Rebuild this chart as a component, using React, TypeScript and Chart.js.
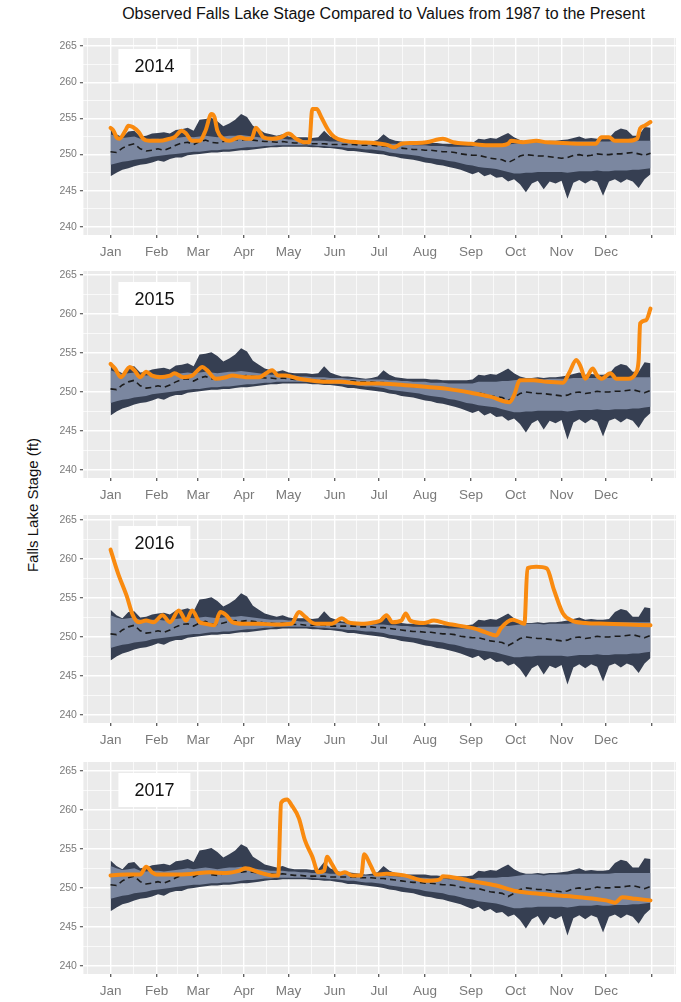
import React, { useEffect, useRef } from 'react';
import { Chart, registerables } from 'chart.js';
Chart.register(...registerables);

// ---------- Data ----------
const MONTHS = ['Jan', 'Feb', 'Mar', 'Apr', 'May', 'Jun', 'Jul', 'Aug', 'Sep', 'Oct', 'Nov', 'Dec'];
const MONTH_START_DAYS = [0, 31, 59, 90, 120, 151, 181, 212, 243, 273, 304, 334, 365];
const MINOR_X_DAYS = [-15.5, 15.5, 45, 74.5, 105, 135.5, 166, 196.5, 227.5, 258, 288.5, 319, 349.5, 380.5];
const Y_MAJOR = [240, 245, 250, 255, 260, 265];
const Y_MINOR = [242.5, 247.5, 252.5, 257.5, 262.5];

// Historical statistics (1987 - present), day of year
const HIST_DAY = [0, 4, 8, 12, 16, 20, 24, 28, 32, 36, 40, 44, 48, 52, 56, 60, 64, 68, 72, 76, 80, 84, 88, 92, 96, 100, 104, 108, 112, 116, 120, 124, 128, 132, 136, 140, 144, 148, 152, 156, 160, 164, 168, 172, 176, 180, 184, 188, 192, 196, 200, 204, 208, 212, 216, 220, 224, 228, 232, 236, 240, 244, 248, 252, 256, 260, 264, 268, 272, 276, 280, 284, 288, 292, 296, 300, 304, 308, 312, 316, 320, 324, 328, 332, 336, 340, 344, 348, 352, 356, 360, 364];
const HIST_MAX = [
  253.5, 252.8, 252.4, 253.2, 253.3, 252.5, 252.6, 252.9, 253.0, 253.1,
  252.9, 253.4, 253.5, 253.7, 253.3, 254.8, 254.9, 255.1, 254.6, 253.9,
  254.3, 254.8, 255.6, 255.2, 254.0, 253.5, 253.0, 252.8, 252.6, 252.8,
  252.5, 252.4, 252.4, 252.4, 252.3, 252.4, 253.3, 252.5, 252.2, 252.0,
  252.0, 251.9, 251.8, 251.7, 251.8, 252.0, 252.8, 252.2, 251.9, 251.8,
  251.7, 251.7, 251.7, 251.7, 251.6, 251.6, 251.5, 251.5, 251.5, 251.5,
  251.5, 251.6, 252.2, 252.1, 252.3, 252.2, 252.6, 253.0, 252.4, 252.0,
  251.8, 251.8, 251.9, 251.8, 251.9, 251.9, 252.0, 252.1, 252.3, 252.5,
  252.2, 252.3, 252.2, 252.2, 252.3, 253.2, 253.6, 253.4, 252.6, 252.6,
  253.8, 253.7];
const HIST_Q_HI = [
  252.8, 252.5, 252.3, 252.4, 252.5, 252.2, 252.1, 252.2, 252.2, 252.1,
  252.2, 252.3, 252.4, 252.5, 252.4, 252.5, 252.6, 252.5, 252.4, 252.5,
  252.6, 252.6, 252.7, 252.6, 252.5, 252.4, 252.3, 252.2, 252.2, 252.2,
  252.1, 252.1, 252.0, 252.0, 251.9, 251.9, 251.9, 251.8, 251.8, 251.8,
  251.7, 251.7, 251.6, 251.6, 251.6, 251.6, 251.6, 251.5, 251.5, 251.4,
  251.4, 251.3, 251.3, 251.3, 251.2, 251.2, 251.2, 251.1, 251.1, 251.1,
  251.1, 251.1, 251.3, 251.3, 251.3, 251.3, 251.4, 251.4, 251.5, 251.6,
  251.7, 251.7, 251.7, 251.6, 251.7, 251.7, 251.7, 251.7, 251.8, 251.8,
  251.8, 251.8, 251.8, 251.8, 251.8, 251.9, 251.9, 251.9, 251.9, 251.9,
  251.9, 251.9];
const HIST_MED = [
  250.4, 250.3, 250.9, 251.3, 251.5, 250.8, 250.5, 250.6, 250.8, 250.6,
  250.9, 251.3, 251.6, 251.7, 251.4, 251.8, 252.0, 251.7, 251.6, 251.8,
  252.0, 252.1, 252.0, 252.1, 252.0, 251.9, 251.8, 251.8, 251.7, 251.8,
  251.7, 251.6, 251.6, 251.5, 251.5, 251.5, 251.5, 251.4, 251.4, 251.4,
  251.4, 251.4, 251.3, 251.3, 251.3, 251.2, 251.2, 251.1, 251.0, 250.9,
  250.8, 250.7, 250.7, 250.6, 250.6, 250.5, 250.4, 250.4, 250.3, 250.1,
  250.0, 249.9, 249.9, 249.7, 249.5, 249.4, 249.3, 248.9, 249.3, 249.8,
  250.0, 249.9, 249.8, 249.8, 249.7, 249.6, 249.5, 249.6, 249.9, 250.0,
  249.8, 249.9, 250.1, 250.0, 250.0, 250.1, 250.1, 250.2, 250.3, 250.1,
  249.9, 250.2];
const HIST_Q_LO = [
  248.6, 248.8, 249.0, 249.1, 249.3, 249.4, 249.5, 249.7, 249.8, 249.9,
  250.0, 250.1, 250.2, 250.3, 250.4, 250.4, 250.5, 250.6, 250.6, 250.7,
  250.7, 250.8, 250.9, 251.0, 251.0, 251.1, 251.2, 251.2, 251.3, 251.3,
  251.3, 251.3, 251.3, 251.3, 251.3, 251.2, 251.2, 251.1, 251.1, 251.0,
  250.9, 250.9, 250.8, 250.7, 250.7, 250.6, 250.5, 250.3, 250.2, 250.1,
  250.0, 249.9, 249.8, 249.6, 249.5, 249.4, 249.3, 249.1, 249.0, 248.8,
  248.6, 248.5, 248.3, 248.2, 248.1, 248.0, 247.8, 247.6, 247.4, 247.4,
  247.5, 247.5, 247.6, 247.6, 247.6, 247.6, 247.6, 247.5, 247.6, 247.7,
  247.7, 247.7, 247.8, 247.7, 247.7, 247.8, 247.8, 247.8, 247.9, 247.9,
  248.0, 248.1];
const HIST_MIN = [
  247.0, 247.5, 247.9, 248.1, 248.4, 248.6, 248.7, 248.9, 249.2, 249.0,
  249.4, 249.6, 249.6, 249.9, 250.0, 250.1, 250.2, 250.3, 250.3, 250.4,
  250.4, 250.5, 250.6, 250.6, 250.7, 250.8, 250.9, 251.0, 251.0, 251.1,
  251.1, 251.1, 251.1, 251.1, 251.0, 251.0, 250.9, 250.9, 250.8, 250.7,
  250.5, 250.5, 250.4, 250.3, 250.2, 250.1, 250.0, 249.8, 249.7, 249.5,
  249.4, 249.3, 249.1, 248.9, 248.8, 248.6, 248.5, 248.3, 248.1, 247.9,
  247.6, 247.3, 247.6, 247.0, 247.3, 246.8, 246.9, 246.3, 246.6, 245.9,
  244.8, 246.0, 246.4, 245.2, 246.3, 246.0, 246.4, 243.9, 246.1, 246.5,
  246.0, 246.5, 246.2, 244.3, 246.3, 246.6, 246.1, 246.6, 246.3, 245.4,
  246.6, 247.3];

// Observed stage per year
const OBS_2014_DAY = [0, 2, 4, 6, 10, 12, 15, 19, 22, 26, 33, 40, 43, 48, 51, 55, 60, 64, 68, 70, 72, 76, 80, 87, 91, 95, 98, 100, 103, 109, 115, 120, 125, 131, 134, 136, 139, 142, 147, 151, 158, 167, 178, 187, 191, 196, 204, 213, 224, 231, 243, 253, 264, 268, 270, 278, 287, 294, 305, 316, 327, 331, 336, 340, 349, 355, 357, 360, 364];
const OBS_2014 = [253.7, 253.3, 252.4, 252.2, 253.3, 254.0, 253.8, 253.1, 252.2, 251.9, 251.9, 252.2, 252.4, 253.3, 252.9, 251.9, 251.9, 253.3, 255.6, 255.2, 253.3, 252.2, 251.9, 252.4, 252.2, 252.2, 253.7, 253.3, 252.4, 252.2, 252.4, 252.9, 252.2, 251.7, 251.7, 256.3, 256.3, 255.2, 253.3, 252.4, 251.9, 251.7, 251.6, 251.3, 251.0, 251.5, 251.6, 251.7, 252.2, 251.7, 251.5, 251.3, 251.3, 251.5, 251.9, 251.7, 251.9, 251.7, 251.6, 251.5, 251.5, 252.4, 252.4, 251.9, 251.9, 252.2, 253.6, 254.0, 254.5];

const OBS_2015_DAY = [0, 3, 7, 13, 16, 20, 24, 28, 33, 40, 43, 49, 55, 62, 65, 71, 78, 82, 91, 100, 109, 113, 118, 127, 134, 145, 156, 167, 181, 191, 204, 227, 243, 256, 269, 272, 276, 285, 294, 305, 309, 314, 317, 320, 325, 328, 331, 337, 341, 349, 354, 356, 357, 361, 364];
const OBS_2015 = [253.6, 253.0, 251.9, 253.2, 252.8, 251.9, 252.6, 252.1, 251.9, 252.1, 252.4, 251.9, 252.1, 253.2, 252.8, 251.7, 251.9, 252.1, 251.9, 251.9, 252.8, 252.1, 252.1, 251.7, 251.5, 251.3, 251.3, 251.1, 251.1, 251.0, 250.8, 250.4, 249.9, 249.4, 248.7, 249.6, 251.5, 251.5, 251.3, 251.2, 252.4, 254.1, 253.2, 251.7, 253.0, 252.1, 251.7, 252.4, 251.7, 251.7, 252.4, 254.1, 258.8, 259.2, 260.7];

const OBS_2016_DAY = [0, 5, 11, 15, 19, 24, 29, 35, 40, 46, 51, 55, 60, 64, 70, 74, 78, 82, 89, 100, 111, 122, 127, 131, 138, 149, 156, 160, 169, 178, 182, 186, 190, 196, 199, 202, 211, 218, 227, 245, 253, 260, 263, 271, 276, 279, 281, 287, 294, 299, 305, 311, 320, 334, 349, 364];
const OBS_2016 = [261.2, 258.2, 255.2, 252.8, 251.9, 252.1, 251.9, 252.8, 251.9, 253.4, 252.1, 253.4, 251.9, 251.7, 251.5, 253.2, 252.8, 251.9, 251.7, 251.7, 251.6, 251.7, 253.2, 252.6, 251.7, 251.7, 252.4, 251.9, 251.7, 251.9, 252.1, 252.8, 251.9, 252.1, 253.0, 252.1, 251.8, 252.1, 251.7, 251.1, 250.6, 250.2, 251.1, 252.2, 251.9, 251.7, 258.8, 259.0, 258.8, 256.0, 253.0, 252.1, 251.8, 251.7, 251.6, 251.5];

const OBS_2017_DAY = [0, 11, 20, 24, 28, 31, 44, 55, 67, 78, 87, 91, 100, 109, 113, 115, 119, 122, 127, 131, 136, 140, 144, 146, 149, 154, 158, 163, 169, 171, 175, 179, 186, 198, 212, 222, 224, 238, 243, 260, 273, 285, 304, 316, 334, 340, 345, 354, 364];
const OBS_2017 = [251.6, 251.7, 251.7, 252.7, 252.0, 251.7, 251.7, 251.8, 252.0, 251.9, 252.2, 252.5, 252.0, 251.6, 251.6, 260.9, 261.3, 260.6, 258.9, 256.1, 254.0, 252.0, 252.2, 254.0, 253.1, 251.8, 252.0, 251.6, 251.6, 254.3, 253.0, 251.7, 251.8, 251.6, 250.9, 251.1, 251.5, 251.1, 250.9, 250.3, 249.6, 249.3, 249.0, 248.8, 248.4, 248.1, 248.8, 248.6, 248.4];

const TITLE = 'Observed Falls Lake Stage Compared to Values from 1987 to the Present';
const Y_TITLE = 'Falls Lake Stage (ft)';

// ---------- Layout / style ----------
const FONT = '"Liberation Sans", Arial, Helvetica, sans-serif';
const DARK = '#363f52';
const LIGHT = '#7b87a0';
const ORANGE = '#f98a0f';
const MEDIAN = '#1c1c1c';
const PANEL_BG = '#ebebeb';
const TICK_COLOR = '#7a7a7a';
const PLOT_LEFT = 83.4;
const X_MIN = -18.3;
const X_MAX = 381.1;
const TOP_PAD = 14;
const X_AXIS_H = 32;
const W = 681;

type PanelSpec = { year: string; gridTop: number; gridBottom: number; y265: number; y240: number; days: number[]; obs: number[] };

const PANELS: PanelSpec[] = [
  { year: '2014', gridTop: 38, gridBottom: 235, y265: 46, y240: 227, days: OBS_2014_DAY, obs: OBS_2014 },
  { year: '2015', gridTop: 271, gridBottom: 478, y265: 275, y240: 470, days: OBS_2015_DAY, obs: OBS_2015 },
  { year: '2016', gridTop: 515, gridBottom: 723, y265: 520, y240: 715, days: OBS_2016_DAY, obs: OBS_2016 },
  { year: '2017', gridTop: 762, gridBottom: 974, y265: 770.7, y240: 966, days: OBS_2017_DAY, obs: OBS_2017 },
];

const xy = (xs: number[], ys: number[]) => xs.map((x, i) => ({ x, y: ys[i] }));
const isMajorX = (v: number) => MONTH_START_DAYS.indexOf(v) >= 0;
const isMajorY = (v: number) => Y_MAJOR.indexOf(v) >= 0;

function Panel({ spec }: { spec: PanelSpec }) {
  const ref = useRef<HTMLCanvasElement>(null);
  const H = spec.gridBottom - spec.gridTop + TOP_PAD + X_AXIS_H;

  useEffect(() => {
    const ppu = (spec.y240 - spec.y265) / 25;
    const yMax = 265 + (spec.y265 - spec.gridTop) / ppu;
    const yMin = 240 - (spec.gridBottom - spec.y240) / ppu;

    const panelPlugin = {
      id: 'panelDecor',
      beforeDraw(chart: any) {
        const { ctx, chartArea } = chart;
        ctx.save();
        ctx.fillStyle = PANEL_BG;
        ctx.fillRect(chartArea.left, chartArea.top, chartArea.right - chartArea.left, chartArea.bottom - chartArea.top);
        ctx.restore();
      },
      afterDatasetsDraw(chart: any) {
        const { ctx, chartArea } = chart;
        ctx.save();
        const bx = chartArea.left + 35;
        const by = chartArea.top + 11;
        ctx.fillStyle = '#ffffff';
        ctx.fillRect(bx, by, 72, 34);
        ctx.fillStyle = '#111111';
        ctx.font = `18px ${FONT}`;
        ctx.textAlign = 'center';
        ctx.textBaseline = 'middle';
        ctx.fillText(spec.year, bx + 36, by + 18);
        ctx.restore();
      },
    };

    const chart = new Chart(ref.current as HTMLCanvasElement, {
      type: 'line',
      data: {
        datasets: [
          { data: xy(spec.days, spec.obs), borderColor: ORANGE, borderWidth: 4, pointRadius: 0, fill: false, cubicInterpolationMode: 'monotone', borderJoinStyle: 'round', borderCapStyle: 'round' } as any,
          { data: xy(HIST_DAY, HIST_MED), borderColor: MEDIAN, borderWidth: 1.6, borderDash: [6, 4], pointRadius: 0, fill: false },
          { data: xy(HIST_DAY, HIST_Q_HI), borderWidth: 0, pointRadius: 0, backgroundColor: LIGHT, borderColor: 'rgba(0,0,0,0)', fill: '+1' },
          { data: xy(HIST_DAY, HIST_Q_LO), borderWidth: 0, pointRadius: 0, borderColor: 'rgba(0,0,0,0)', fill: false },
          { data: xy(HIST_DAY, HIST_MAX), borderWidth: 0, pointRadius: 0, backgroundColor: DARK, borderColor: 'rgba(0,0,0,0)', fill: '+1' },
          { data: xy(HIST_DAY, HIST_MIN), borderWidth: 0, pointRadius: 0, borderColor: 'rgba(0,0,0,0)', fill: false },
        ],
      },
      options: {
        animation: false,
        responsive: false,
        maintainAspectRatio: false,
        layout: { padding: { top: TOP_PAD, left: 0, right: 0, bottom: 0 } },
        plugins: { legend: { display: false }, tooltip: { enabled: false }, title: { display: false } },
        elements: { line: { tension: 0 } },
        scales: {
          x: {
            type: 'linear',
            min: X_MIN,
            max: X_MAX,
            afterBuildTicks: (s: any) => {
              s.ticks = [...MINOR_X_DAYS, ...MONTH_START_DAYS].sort((a, b) => a - b).map((v) => ({ value: v }));
            },
            afterFit: (s: any) => { s.height = X_AXIS_H; },
            border: { display: false },
            grid: {
              color: '#ffffff',
              lineWidth: (c: any) => (c.tick && isMajorX(c.tick.value) ? 1.4 : 0.7),
              drawTicks: true,
              tickLength: 3,
              tickWidth: 1.3,
              tickColor: (c: any) => (c.tick && isMajorX(c.tick.value) ? '#5a5a5a' : 'rgba(0,0,0,0)'),
            },
            ticks: {
              autoSkip: false,
              maxRotation: 0,
              minRotation: 0,
              padding: 6,
              color: TICK_COLOR,
              font: { family: FONT, size: 13.5 },
              callback: (v: any) => {
                const i = MONTH_START_DAYS.indexOf(Number(v));
                return i >= 0 && i < 12 ? MONTHS[i] : '';
              },
            },
          },
          y: {
            type: 'linear',
            min: yMin,
            max: yMax,
            afterBuildTicks: (s: any) => {
              s.ticks = [...Y_MINOR, ...Y_MAJOR].sort((a, b) => a - b).map((v) => ({ value: v }));
            },
            afterFit: (s: any) => { s.width = PLOT_LEFT; },
            border: { display: false },
            grid: {
              color: '#ffffff',
              lineWidth: (c: any) => (c.tick && isMajorY(c.tick.value) ? 1.4 : 0.7),
              drawTicks: true,
              tickLength: 3.5,
              tickWidth: 1.2,
              tickColor: (c: any) => (c.tick && isMajorY(c.tick.value) ? '#5a5a5a' : 'rgba(0,0,0,0)'),
            },
            ticks: {
              autoSkip: false,
              padding: 3,
              color: TICK_COLOR,
              font: { family: FONT, size: 10.5 },
              callback: (v: any) => (isMajorY(Number(v)) ? String(v) : ''),
            },
          },
        },
      },
      plugins: [panelPlugin],
    });
    return () => chart.destroy();
  }, []);

  return (
    <canvas
      ref={ref}
      width={W}
      height={H}
      style={{ position: 'absolute', left: 0, top: spec.gridTop - TOP_PAD, width: W, height: H }}
    />
  );
}

export default function App() {
  return (
    <div style={{ position: 'fixed', left: 0, top: 0, width: W, height: 1002, background: '#ffffff', overflow: 'hidden', fontFamily: FONT }}>
      <div style={{ position: 'absolute', left: 83, width: 601, top: 5, textAlign: 'center', fontSize: 16, color: '#111', whiteSpace: 'nowrap' }}>
        {TITLE}
      </div>
      <div style={{ position: 'absolute', left: 32, top: 505, transform: 'translate(-50%, -50%) rotate(-90deg)', fontSize: 15, color: '#111', whiteSpace: 'nowrap' }}>
        {Y_TITLE}
      </div>
      {PANELS.map((p) => (
        <Panel key={p.year} spec={p} />
      ))}
    </div>
  );
}
